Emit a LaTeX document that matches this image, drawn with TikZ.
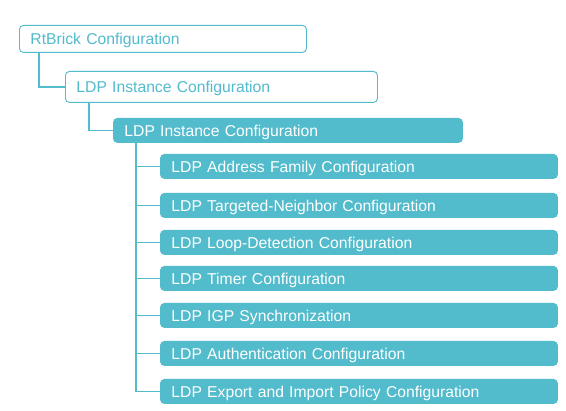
\documentclass[tikz,border=0pt]{standalone}
\usepackage{fontspec}
\setmainfont{Liberation Sans}
\usetikzlibrary{positioning,calc}
\definecolor{rbteal}{RGB}{82,187,204}
\tikzset{
    outbox/.style={
        draw=rbteal,line width=0.9pt,rounded corners=4pt,fill=white,
        text=rbteal,align=left,inner xsep=11pt,inner ysep=0pt,
        text height=11.3pt,text depth=0pt,
        anchor=north west,font=\fontsize{15.7}{18}\selectfont
    },
    fillbox/.style={
        draw=rbteal,line width=0.9pt,rounded corners=4pt,fill=rbteal,
        text=white,align=left,inner xsep=11pt,inner ysep=0pt,
        text height=11.3pt,text depth=0pt,
        anchor=north west,font=\fontsize{15.7}{18}\selectfont
    },
    link/.style={draw=rbteal,line width=1.5pt}
}

\begin{document}
\begin{tikzpicture}[x=1pt,y=-1pt]
\useasboundingbox (0,0) rectangle (566,411);

\node[outbox,text width=265pt,minimum height=27pt] (rt) at (19,25) {RtBrick Configuration};
\node[outbox,text width=290pt,minimum height=31pt] (inst) at (65,71) {LDP Instance Configuration};
\node[fillbox,text width=327pt,minimum height=24pt] (ldp) at (113,118) {LDP Instance Configuration};

% child configuration blocks
\node[fillbox,text width=375pt,minimum height=24pt] (af) at (160,154) {LDP Address Family Configuration};
\node[fillbox,text width=375pt,minimum height=24pt] (tn) at (160,193) {LDP Targeted-Neighbor Configuration};
\node[fillbox,text width=375pt,minimum height=24pt] (loop) at (160,230) {LDP Loop-Detection Configuration};
\node[fillbox,text width=375pt,minimum height=24pt] (timer) at (160,266) {LDP Timer Configuration};
\node[fillbox,text width=375pt,minimum height=24pt] (igp) at (160,303) {LDP IGP Synchronization};
\node[fillbox,text width=375pt,minimum height=24pt] (auth) at (160,341) {LDP Authentication Configuration};
\node[fillbox,text width=375pt,minimum height=24pt] (pol) at (160,379) {LDP Export and Import Policy Configuration};

% tree lines
\draw[link] ($(rt.south west)+(20,0)$) |- (inst.west);
\draw[link] ($(inst.south west)+(24,0)$) |- (ldp.west);
\foreach \c in {af,tn,loop,timer,igp,auth,pol}
    \draw[link] ($(ldp.south west)+(23,0)$) |- (\c.west);

\end{tikzpicture}
\end{document}
